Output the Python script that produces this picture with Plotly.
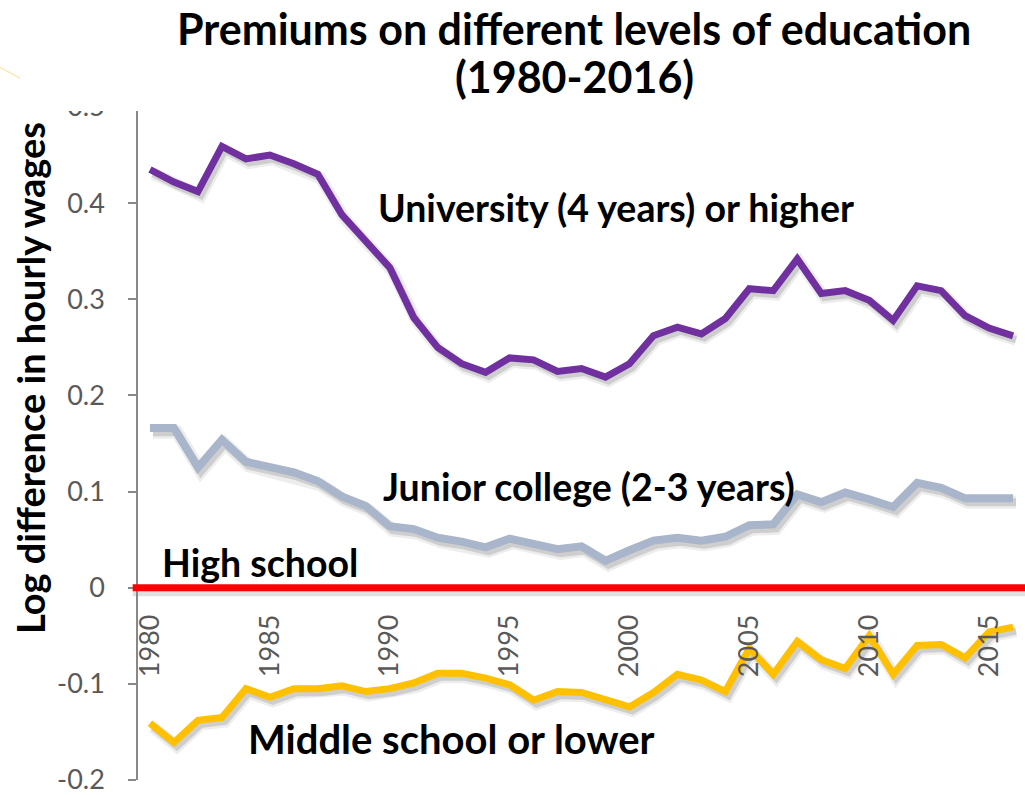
import plotly.graph_objects as go

# Wage premiums relative to high-school graduates (log points), 1980-2016
years = list(range(1980, 2017))

university = [0.435, 0.422, 0.412, 0.459, 0.446, 0.450, 0.441, 0.430, 0.388, 0.360,
              0.333, 0.281, 0.250, 0.233, 0.224, 0.239, 0.237, 0.225, 0.228, 0.219,
              0.233, 0.262, 0.271, 0.264, 0.280, 0.311, 0.309, 0.342, 0.306, 0.309,
              0.299, 0.278, 0.314, 0.309, 0.283, 0.270, 0.262]

junior_college = [0.166, 0.166, 0.125, 0.154, 0.131, 0.125, 0.120, 0.111, 0.095, 0.085,
                  0.064, 0.061, 0.052, 0.048, 0.042, 0.051, 0.045, 0.040, 0.043, 0.028,
                  0.039, 0.049, 0.052, 0.049, 0.053, 0.065, 0.066, 0.097, 0.089, 0.099,
                  0.092, 0.084, 0.109, 0.104, 0.093, 0.093, 0.093]

middle_school = [-0.141, -0.161, -0.138, -0.135, -0.105, -0.114, -0.105, -0.105, -0.102, -0.108,
                 -0.105, -0.099, -0.089, -0.089, -0.094, -0.101, -0.117, -0.108, -0.109, -0.117,
                 -0.124, -0.109, -0.090, -0.096, -0.108, -0.063, -0.090, -0.056, -0.075, -0.084,
                 -0.050, -0.090, -0.060, -0.059, -0.073, -0.046, -0.041]

# High school is the reference group
high_school = 0.0

x_ticks = [1980, 1985, 1990, 1995, 2000, 2005, 2010, 2015]
y_ticks = [-0.2, -0.1, 0, 0.1, 0.2, 0.3, 0.4, 0.5]
y_tick_text = ["-0.2", "-0.1", "0", "0.1", "0.2", "0.3", "0.4", "0.5"]

series = [
    ("University (4 years) or higher", university, "#7030A0", 7),
    ("Junior college (2-3 years)", junior_college, "#A9B5CA", 8),
    ("Middle school or lower", middle_school, "#FFC000", 7),
]

X_RANGE = [1979.5, 2016.5]
Y_RANGE = [-0.2, 0.5]
# drop-shadow offset in axis units (a few pixels right and down)
SH_X = 0.125
SH_Y = 0.0042

FONT = "Lato, 'Open Sans', sans-serif"

# plot-area geometry in pixels
W, H = 1025, 795
M_L, M_R, M_T, M_B = 138, 0, 107, 10
PW, PH = W - M_L - M_R, H - M_T - M_B

fig = go.Figure()

# soft shadows on the hidden base axes (shifted ranges)
for name, vals, color, w in series:
    fig.add_trace(go.Scatter(x=years, y=vals, mode="lines", xaxis="x", yaxis="y",
                             line=dict(color="rgba(0,0,0,0.07)", width=w + 5),
                             hoverinfo="skip", showlegend=False))
    fig.add_trace(go.Scatter(x=years, y=vals, mode="lines", xaxis="x", yaxis="y",
                             line=dict(color="rgba(0,0,0,0.13)", width=w),
                             hoverinfo="skip", showlegend=False))

# the series themselves on the visible axes
for name, vals, color, w in series:
    fig.add_trace(go.Scatter(x=years, y=vals, mode="lines", name=name,
                             xaxis="x2", yaxis="y2",
                             line=dict(color=color, width=w), showlegend=False))

zero_pos = (0 - Y_RANGE[0]) / (Y_RANGE[1] - Y_RANGE[0])

fig.update_layout(
    width=W, height=H,
    margin=dict(l=M_L, r=M_R, t=M_T, b=M_B),
    plot_bgcolor="white", paper_bgcolor="white",
    showlegend=False,
    xaxis=dict(range=[X_RANGE[0] - SH_X, X_RANGE[1] - SH_X], visible=False, fixedrange=True),
    yaxis=dict(range=[Y_RANGE[0] + SH_Y, Y_RANGE[1] + SH_Y], visible=False, fixedrange=True),
    xaxis2=dict(range=X_RANGE, overlaying="x", anchor="free", position=zero_pos,
                showgrid=False, zeroline=False, showline=False,
                tickmode="array", tickvals=x_ticks, tickangle=-90,
                ticks="outside", ticklen=15, tickcolor="rgba(0,0,0,0)",
                tickfont=dict(family=FONT, size=27, color="#595959")),
    yaxis2=dict(range=Y_RANGE, overlaying="y", anchor="x2", side="left",
                showgrid=False, zeroline=False,
                showline=True, linecolor="#888888", linewidth=1.5,
                tickmode="array", tickvals=y_ticks, ticktext=y_tick_text,
                ticks="outside", ticklen=8, tickcolor="#888888", tickwidth=1.5,
                ticklabelstandoff=18, ticklabeloverflow="allow",
                tickfont=dict(family=FONT, size=27, color="#595959")),
)


def px_x(p):
    return (p - M_L) / PW


def px_y(p):
    return (H - M_B - p) / PH


shapes = [
    # shadow under the reference line
    dict(type="line", xref="paper", yref="y", x0=-0.006, x1=1, y0=high_school, y1=high_school,
         line=dict(color="rgba(0,0,0,0.12)", width=9), layer="below"),
    # high-school reference line
    dict(type="line", xref="paper", yref="y2", x0=-0.006, x1=1, y0=high_school, y1=high_school,
         line=dict(color="#FF0000", width=7), layer="above"),
    # header band trimming the top of the axis
    dict(type="rect", xref="paper", yref="paper", x0=-0.12, x1=0.004, y0=px_y(111), y1=1.2,
         fillcolor="white", line=dict(width=0), layer="above"),
    # small accent stroke in the corner
    dict(type="line", xref="paper", yref="paper",
         x0=px_x(0), y0=px_y(67), x1=px_x(20), y1=px_y(78),
         line=dict(color="#FFE3A0", width=1.2), layer="above"),
]
fig.update_layout(shapes=shapes)

annotations = [
    dict(text="<b>Premiums on different levels of education</b>",
         xref="paper", yref="paper", x=px_x(574), y=px_y(28),
         xanchor="center", yanchor="middle", showarrow=False,
         font=dict(family=FONT, size=43, color="black")),
    dict(text="<b>(1980-2016)</b>",
         xref="paper", yref="paper", x=px_x(574), y=px_y(76),
         xanchor="center", yanchor="middle", showarrow=False,
         font=dict(family=FONT, size=43, color="black")),
    dict(text="<b>Log difference in hourly wages</b>", textangle=-90,
         xref="paper", yref="paper", x=px_x(30), y=px_y(380),
         xanchor="center", yanchor="middle", showarrow=False,
         font=dict(family=FONT, size=38, color="black")),
    dict(text="<b>University (4 years) or higher</b>", xref="x2", yref="y2",
         x=1999.44, y=0.395, xanchor="center", yanchor="middle", showarrow=False,
         font=dict(family=FONT, size=37.5, color="black")),
    dict(text="<b>Junior college (2-3 years)</b>", xref="x2", yref="y2",
         x=1998.3, y=0.105, xanchor="center", yanchor="middle", showarrow=False,
         font=dict(family=FONT, size=37.5, color="black")),
    dict(text="<b>High school</b>", xref="x2", yref="y2",
         x=1984.6, y=0.026, xanchor="center", yanchor="middle", showarrow=False,
         font=dict(family=FONT, size=37.5, color="black")),
    dict(text="<b>Middle school or lower</b>", xref="x2", yref="y2",
         x=1992.56, y=-0.157, xanchor="center", yanchor="middle", showarrow=False,
         font=dict(family=FONT, size=40, color="black")),
]
fig.update_layout(annotations=annotations)

fig.write_html("out.html", config={"displayModeBar": False})
